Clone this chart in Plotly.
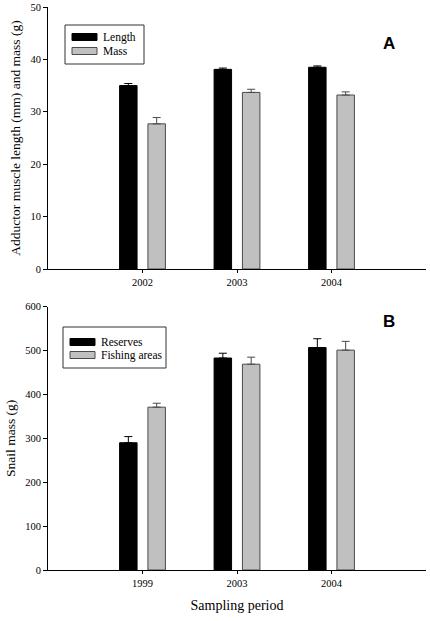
import plotly.graph_objects as go

# ---- data ----
years_a = ["2002", "2003", "2004"]
length_mm = [35.0, 38.1, 38.5]
length_err = [0.4, 0.25, 0.25]
mass_g = [27.7, 33.7, 33.2]
mass_err = [1.2, 0.6, 0.6]

years_b = ["1999", "2003", "2004"]
reserves = [290, 483, 507]
reserves_err = [14, 11, 20]
fishing = [371, 469, 501]
fishing_err = [9, 16, 20]

W, H = 430, 621
L, R, T, B = 48, 4, 7, 51
pw, ph = W - L - R, H - T - B
top_dom = [(570 - 269) / ph, 1.0]
bot_dom = [0.0, (570 - 306.7) / ph]

BLACK = "#000000"
GRAY = "#c0c0c0"
EDGE_G = "#4a4a4a"
SERIF = "Liberation Serif, Times New Roman, serif"

fig = go.Figure()
xa = list(range(len(years_a)))
xb = list(range(len(years_b)))

def bar(x, y, err, name, color, edge, xaxis, yaxis):
    return go.Bar(
        x=x, y=y, name=name, xaxis=xaxis, yaxis=yaxis, showlegend=False,
        marker=dict(color=color, line=dict(color=edge, width=1)),
        error_y=dict(type="data", array=err, symmetric=False, arrayminus=[0]*len(err),
                     color=edge, thickness=1, width=4),
    )

fig.add_trace(bar(xa, length_mm, length_err, "Length", BLACK, BLACK, "x", "y"))
fig.add_trace(bar(xa, mass_g, mass_err, "Mass", GRAY, EDGE_G, "x", "y"))
fig.add_trace(bar(xb, reserves, reserves_err, "Reserves", BLACK, BLACK, "x2", "y2"))
fig.add_trace(bar(xb, fishing, fishing_err, "Fishing areas", GRAY, EDGE_G, "x2", "y2"))

axis_common = dict(showline=True, linecolor="black", linewidth=1, ticks="outside",
                   tickcolor="black", showgrid=False, zeroline=False,
                   tickfont=dict(family=SERIF, size=10.5, color="black"))

fig.update_layout(
    width=W, height=H, margin=dict(l=L, r=R, t=T, b=B, autoexpand=False),
    paper_bgcolor="white", plot_bgcolor="white",
    barmode="group", bargap=0.4, bargroupgap=0.383,
    font=dict(family=SERIF, color="black"),
    xaxis=dict(domain=[0, 1], anchor="y", range=[-1, 3], tickvals=xa, ticktext=years_a,
               ticklen=3, **axis_common),
    yaxis=dict(domain=top_dom, anchor="x", range=[0, 50], dtick=10, ticklen=4,
               title=dict(text="Adductor muscle length (mm) and mass (g)",
                          font=dict(family=SERIF, size=13.5), standoff=6),
               **axis_common),
    xaxis2=dict(domain=[0, 1], anchor="y2", range=[-1, 3], tickvals=xb, ticktext=years_b,
                title=dict(text="Sampling period", font=dict(family=SERIF, size=14), standoff=12),
                ticklen=3, **axis_common),
    yaxis2=dict(domain=bot_dom, anchor="x2", range=[0, 600], dtick=100, ticklen=4,
                title=dict(text="Snail mass (g)", font=dict(family=SERIF, size=13.5), standoff=6),
                **axis_common),
)

def px(xp):
    return (xp - L) / pw

def py(yp):
    return (H - B - yp) / ph

shapes = []
annotations = []

def legend(box, rows):
    x0, y0, x1, y1 = box
    shapes.append(dict(type="rect", xref="paper", yref="paper",
                       x0=px(x0), x1=px(x1), y0=py(y1), y1=py(y0),
                       line=dict(color="#333333", width=1), fillcolor="white"))
    for (ycen, label, color, edge) in rows:
        shapes.append(dict(type="rect", xref="paper", yref="paper",
                           x0=px(x0 + 7), x1=px(x0 + 32), y0=py(ycen + 3.5), y1=py(ycen - 3.5),
                           line=dict(color=edge, width=1), fillcolor=color))
        annotations.append(dict(x=px(x0 + 36), y=py(ycen), xref="paper", yref="paper",
                                text=label, showarrow=False, xanchor="left", yanchor="middle",
                                font=dict(family=SERIF, size=11.5, color="black")))

legend((65, 25, 144, 64), [(37, "Length", BLACK, BLACK), (51, "Mass", GRAY, EDGE_G)])
legend((63, 327, 166, 368), [(342, "Reserves", BLACK, BLACK), (355, "Fishing areas", GRAY, EDGE_G)])

annotations.append(dict(x=px(397), y=py(32), xref="paper", yref="paper", text="<b>A</b>",
                        showarrow=False, font=dict(family="Liberation Sans, Arial", size=17, color="black")))
annotations.append(dict(x=px(397), y=py(321), xref="paper", yref="paper", text="<b>B</b>",
                        showarrow=False, font=dict(family="Liberation Sans, Arial", size=17, color="black")))

fig.update_layout(shapes=shapes, annotations=annotations)
fig.write_html("out.html", config={"displayModeBar": False},
               post_script="document.body.style.margin='0';")
